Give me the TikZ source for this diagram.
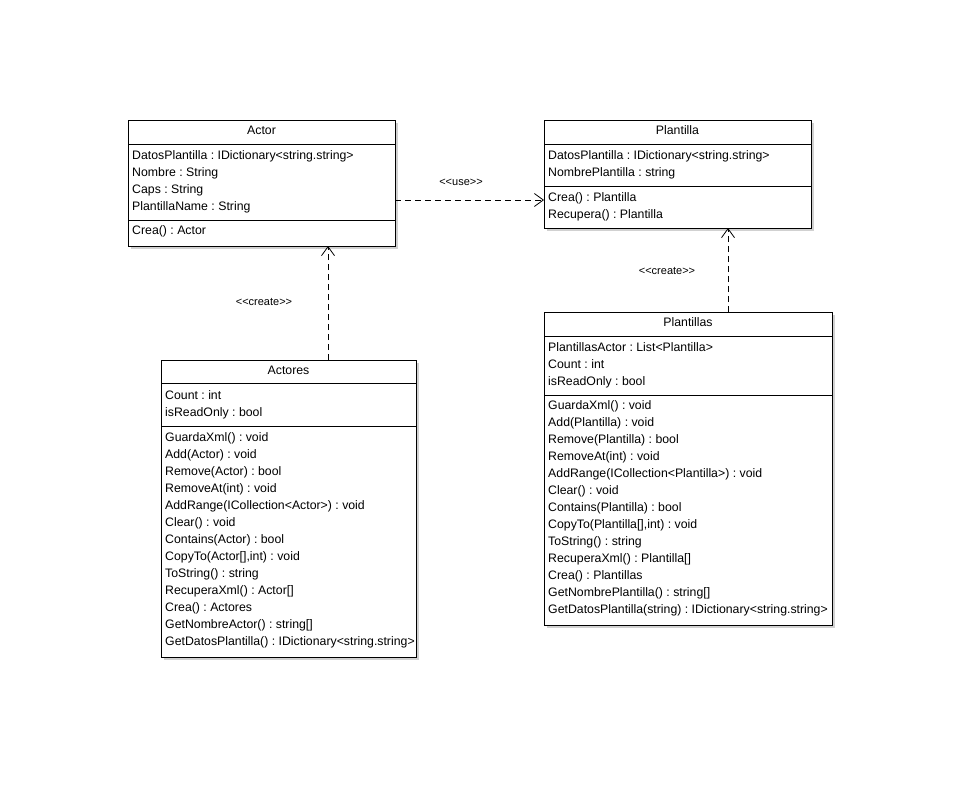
\documentclass[tikz,border=0pt]{standalone}
\usepackage{fontspec}
\setmainfont{Liberation Sans}
\usetikzlibrary{arrows.meta,shadows}
\frenchspacing
\tikzset{
 classbox/.style={draw=black, line width=1pt, fill=white, inner sep=0pt, anchor=north west,
   drop shadow={shadow xshift=2pt,shadow yshift=-2pt,fill=black!18,opacity=1}},
 member/.style={anchor=west, inner sep=0pt, font=\fontsize{12.3}{14}\selectfont\frenchspacing, text height=10.5pt, text depth=1.5pt},
 ctitle/.style={member, anchor=center},
 sepline/.style={line width=1pt},
 dep/.style={line width=0.8pt, dash pattern=on 6pt off 4pt, -{Straight Barb[length=9pt,width=13pt,line width=0.8pt]}},
 stereo/.style={font=\fontsize{11}{13}\selectfont, inner sep=0pt}
}
\begin{document}
\begin{tikzpicture}[x=1pt,y=-1pt]
\useasboundingbox (0,0) rectangle (960,792);
\fill[white] (0,0) rectangle (960,792);

% Actor
\node[classbox, minimum width=267pt, minimum height=126pt] (actor) at (128,120) {};
\draw[sepline] (128,144) -- (395,144);
\draw[sepline] (128,220) -- (395,220);
\node[ctitle] (actorT) at (261.5,130) {Actor};
\foreach \t [count=\i from 0] in {DatosPlantilla : IDictionary<string.string>, Nombre : String, Caps : String, PlantillaName : String}
  \node[member] (actorA\i) at (132,154.5+17*\i) {\t};
\node[member] (actorM0) at (132,230) {Crea() : Actor};

% Plantilla
\node[classbox, minimum width=267pt, minimum height=108pt] (plantilla) at (544,120) {};
\draw[sepline] (544,144) -- (811,144);
\draw[sepline] (544,186) -- (811,186);
\node[ctitle] (plantillaT) at (677.5,130) {Plantilla};
\foreach \t [count=\i from 0] in {DatosPlantilla : IDictionary<string.string>, NombrePlantilla : string}
  \node[member] (plantillaA\i) at (548,154.5+17*\i) {\t};
\foreach \t [count=\i from 0] in {Crea() : Plantilla, Recupera() : Plantilla}
  \node[member] (plantillaM\i) at (548,196.5+17*\i) {\t};

% Actores
\node[classbox, minimum width=255pt, minimum height=297pt] (actores) at (161,360) {};
\draw[sepline] (161,383) -- (416,383);
\draw[sepline] (161,426) -- (416,426);
\node[ctitle] (actoresT) at (288.5,370) {Actores};
\foreach \t [count=\i from 0] in {Count : int, isReadOnly : bool}
  \node[member] (actoresA\i) at (165,394.5+17*\i) {\t};
\foreach \t [count=\i from 0] in {GuardaXml() : void, Add(Actor) : void, Remove(Actor) : bool, RemoveAt(int) : void,
  AddRange(ICollection<Actor>) : void, Clear() : void, Contains(Actor) : bool, {CopyTo(Actor[],int) : void},
  ToString() : string, RecuperaXml() : Actor[], Crea() : Actores, GetNombreActor() : string[],
  GetDatosPlantilla() : IDictionary<string.string>}
  \node[member] (actoresM\i) at (165,437+17*\i) {\t};

% Plantillas
\node[classbox, minimum width=288pt, minimum height=313pt] (plantillas) at (544,312) {};
\draw[sepline] (544,336) -- (832,336);
\draw[sepline] (544,395) -- (832,395);
\node[ctitle] (plantillasT) at (688,322) {Plantillas};
\foreach \t [count=\i from 0] in {PlantillasActor : List<Plantilla>, Count : int, isReadOnly : bool}
  \node[member] (plantillasA\i) at (548,346.5+17*\i) {\t};
\foreach \t [count=\i from 0] in {GuardaXml() : void, Add(Plantilla) : void, Remove(Plantilla) : bool, RemoveAt(int) : void,
  AddRange(ICollection<Plantilla>) : void, Clear() : void, Contains(Plantilla) : bool, {CopyTo(Plantilla[],int) : void},
  ToString() : string, RecuperaXml() : Plantilla[], Crea() : Plantillas, GetNombrePlantilla() : string[],
  GetDatosPlantilla(string) : IDictionary<string.string>}
  \node[member] (plantillasM\i) at (548,405+17*\i) {\t};

% connectors
\coordinate (u1) at (395,200);
\coordinate (u2) at (544,200);
\draw[dep] (u1) -- (u2);
\node[stereo] (useL) at (461,182) {<\kern0pt<use>\kern0pt>};

\coordinate (c1) at (328,360);
\coordinate (c2) at (328,246);
\draw[dep] (c1) -- (c2);
\node[stereo] (createL1) at (264,302) {<\kern0pt<create>\kern0pt>};

\coordinate (d1) at (728,312);
\coordinate (d2) at (728,228);
\draw[dep] (d1) -- (d2);
\node[stereo] (createL2) at (667,271) {<\kern0pt<create>\kern0pt>};
\end{tikzpicture}
\end{document}
